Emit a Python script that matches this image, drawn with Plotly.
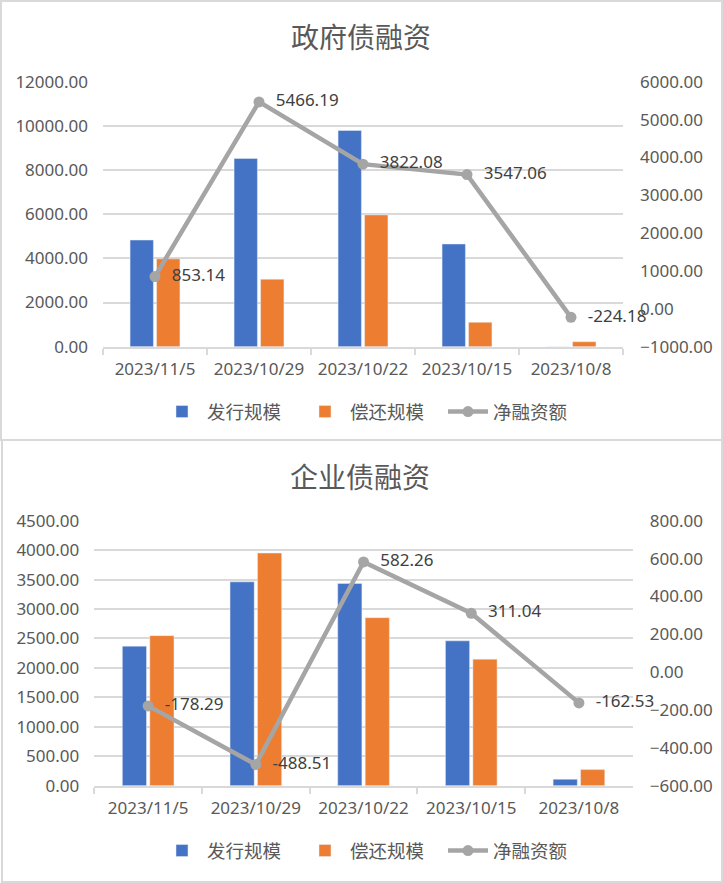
import plotly.graph_objects as go

# ---------------- data ----------------
categories = ["2023/11/5", "2023/10/29", "2023/10/22", "2023/10/15", "2023/10/8"]

gov_issue = [4830, 8520, 9790, 4650, 0]
gov_repay = [3977, 3054, 5968, 1104, 224]
gov_net = [853.14, 5466.19, 3822.08, 3547.06, -224.18]

corp_issue = [2370, 3462, 3435, 2460, 110]
corp_repay = [2548, 3951, 2853, 2149, 273]
corp_net = [-178.29, -488.51, 582.26, 311.04, -162.53]

titles = ["政府债融资", "企业债融资"]
series_names = ["发行规模", "偿还规模", "净融资额"]

# ---------------- style ----------------
W, H = 723, 883
BLUE, ORANGE, GREY = "#4472c4", "#ed7d31", "#a5a5a5"
GRID = "#d9d9d9"
TICK_COLOR = "#595959"
NUM_FONT = "Noto Sans"
CJK_FONT = "Noto Sans CJK SC"
LABEL_TEMPLATE = "\u00a0\u00a0%{y:.2f}"


def px_x(p):
    return p / W


def px_y(p):
    return 1 - p / H


fig = go.Figure()

# top chart traces
fig.add_trace(go.Bar(x=categories, y=gov_issue, name=series_names[0], marker_color=BLUE,
                     xaxis="x", yaxis="y", legend="legend"))
fig.add_trace(go.Bar(x=categories, y=gov_repay, name=series_names[1], marker_color=ORANGE,
                     xaxis="x", yaxis="y", legend="legend"))
fig.add_trace(go.Scatter(x=categories, y=gov_net, name=series_names[2], mode="lines+markers+text",
                         line=dict(color=GREY, width=4.5), marker=dict(color=GREY, size=11),
                         texttemplate=LABEL_TEMPLATE, textposition="middle right",
                         textfont=dict(family=NUM_FONT, size=17, color="#404040"),
                         cliponaxis=False, xaxis="x", yaxis="y2", legend="legend"))

# bottom chart traces
fig.add_trace(go.Bar(x=categories, y=corp_issue, name=series_names[0], marker_color=BLUE,
                     xaxis="x2", yaxis="y3", legend="legend2"))
fig.add_trace(go.Bar(x=categories, y=corp_repay, name=series_names[1], marker_color=ORANGE,
                     xaxis="x2", yaxis="y3", legend="legend2"))
fig.add_trace(go.Scatter(x=categories, y=corp_net, name=series_names[2], mode="lines+markers+text",
                         line=dict(color=GREY, width=4.5), marker=dict(color=GREY, size=11),
                         texttemplate=LABEL_TEMPLATE, textposition="middle right",
                         textfont=dict(family=NUM_FONT, size=17, color="#404040"),
                         cliponaxis=False, xaxis="x2", yaxis="y4", legend="legend2"))

tickfont = dict(family=NUM_FONT, size=17, color=TICK_COLOR)

xcommon = dict(type="category", showgrid=False, showline=True, linecolor=GRID, linewidth=2,
               ticks="outside", tickson="boundaries", ticklen=6, tickcolor=GRID, tickwidth=2,
               tickfont=tickfont, ticklabelstandoff=6, zeroline=False, fixedrange=True,
               automargin=False)
yleft = dict(showgrid=True, gridcolor=GRID, gridwidth=2, showline=False, zeroline=False,
             tickformat=".2f", tickfont=tickfont, ticks="", ticklabelstandoff=14,
             automargin=False, fixedrange=True)
yright = dict(showgrid=False, showline=False, zeroline=False, tickformat=".2f",
              tickfont=tickfont, ticks="", side="right", ticklabelstandoff=16,
              automargin=False, fixedrange=True)

legend_common = dict(orientation="h", x=0.5 + 10 / W, xanchor="center", yanchor="middle",
                     font=dict(family=CJK_FONT, size=18.5, color=TICK_COLOR),
                     bgcolor="rgba(0,0,0,0)", entrywidth=88, entrywidthmode="pixels",
                     itemwidth=40)

fig.update_layout(
    width=W, height=H,
    margin=dict(l=0, r=0, t=0, b=0, pad=0, autoexpand=False),
    paper_bgcolor="white", plot_bgcolor="white",
    barmode="group", bargap=0.49, bargroupgap=0.12,
    showlegend=True,
    xaxis=dict(domain=[px_x(103), px_x(623)], anchor="y", **xcommon),
    yaxis=dict(domain=[px_y(346.7), px_y(81.7)], anchor="x", range=[0, 12000], dtick=2000, **yleft),
    yaxis2=dict(overlaying="y", anchor="x", range=[-1000, 6000], dtick=1000, **yright),
    xaxis2=dict(domain=[px_x(94.3), px_x(632.8)], anchor="y3", **xcommon),
    yaxis3=dict(domain=[px_y(785.7), px_y(520.7)], anchor="x2", range=[0, 4500], dtick=500, **yleft),
    yaxis4=dict(overlaying="y3", anchor="x2", range=[-600, 800], dtick=200, **yright),
    legend=dict(y=px_y(412), **legend_common),
    legend2=dict(y=px_y(851), **legend_common),
    annotations=[
        dict(text=titles[0], x=px_x(361), y=px_y(36), xref="paper", yref="paper",
             xanchor="center", yanchor="middle", showarrow=False,
             font=dict(family=CJK_FONT, size=28, color=TICK_COLOR)),
        dict(text=titles[1], x=px_x(360), y=px_y(476), xref="paper", yref="paper",
             xanchor="center", yanchor="middle", showarrow=False,
             font=dict(family=CJK_FONT, size=28, color=TICK_COLOR)),
    ],
    shapes=[
        dict(type="rect", xref="paper", yref="paper", x0=px_x(1), x1=px_x(722), y0=px_y(440), y1=px_y(1),
             line=dict(color=GRID, width=2), fillcolor="rgba(0,0,0,0)", layer="below"),
        dict(type="rect", xref="paper", yref="paper", x0=px_x(2), x1=px_x(722), y0=px_y(882), y1=px_y(440),
             line=dict(color=GRID, width=2), fillcolor="rgba(0,0,0,0)", layer="below"),
    ],
)

fig.write_html("out.html", config={"displayModeBar": False},
               post_script="document.body.style.margin='0';document.body.style.overflow='hidden';")
